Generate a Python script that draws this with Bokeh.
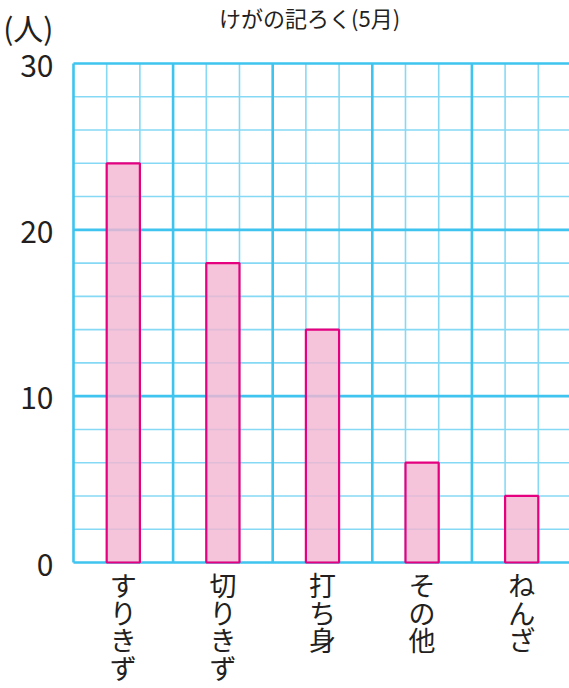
from bokeh.plotting import figure
from bokeh.models import FixedTicker, Range1d
from bokeh.core.properties import value
from bokeh.embed import file_html
from bokeh.resources import INLINE

title_text = "けがの記ろく(5月)"
unit_text = "(人)"
categories = ["すりきず", "切りきず", "打ち身", "その他", "ねんざ"]
counts = [24, 18, 14, 6, 4]
y_ticks = [0, 10, 20, 30]
y_max = 30
minor_y_step = 2
minor_x_div = 3

FONT = "Noto Sans CJK JP"
TXT = "#231f20"
n = len(categories)
xs = [i + 0.5 for i in range(n)]

W, H = 569, 688
PX = 499 / 30                      # pixels per count unit
y_top = 562 / PX                   # canvas top in data units
y_bot = -(H - 562) / PX            # canvas bottom in data units

p = figure(width=W, height=H, x_range=Range1d(-0.02, 4.98), y_range=Range1d(y_bot, y_top),
           output_backend="svg", toolbar_location=None, x_axis_type=None,
           min_border_left=69, min_border_right=0, min_border_top=0, min_border_bottom=0)
p.outline_line_color = None
p.xgrid.visible = False
p.ygrid.visible = False

# ---- grid (drawn only over the chart area) ----
major_c = "#3ec4ef"
minor_c = "#86d9f4"
x_major = list(range(0, n + 1))
x_minor = [i / minor_x_div for i in range(0, minor_x_div * n) if i % minor_x_div != 0]
y_minor = [v for v in range(0, y_max + 1, minor_y_step) if v not in y_ticks]
p.segment(x0=x_minor, x1=x_minor, y0=[0] * len(x_minor), y1=[y_max] * len(x_minor),
          line_color=minor_c, line_width=1.6)
p.segment(x0=[0] * len(y_minor), x1=[n] * len(y_minor), y0=y_minor, y1=y_minor,
          line_color=minor_c, line_width=1.6)
p.segment(x0=x_major, x1=x_major, y0=[0] * len(x_major), y1=[y_max] * len(x_major),
          line_color=major_c, line_width=2.6)
p.segment(x0=[0] * len(y_ticks), x1=[n] * len(y_ticks), y0=y_ticks, y1=y_ticks,
          line_color=major_c, line_width=2.6)

# ---- bars ----
p.vbar(x=xs, width=1 / 3, top=counts, bottom=0, fill_color="#f3b6d2", fill_alpha=0.82,
       line_color="#e5007f", line_width=2.2)

# ---- y axis (with unit label above the top tick) ----
unit_y = (562 - 26) / PX
ya = p.yaxis[0]
ya.ticker = FixedTicker(ticks=y_ticks + [unit_y])
ya.major_label_overrides = {unit_y: unit_text}
ya.axis_line_color = None
ya.major_tick_line_color = None
ya.minor_tick_line_color = None
ya.major_label_text_font = FONT
ya.major_label_text_font_size = "30px"
ya.major_label_text_color = TXT
ya.major_label_standoff = 12

# ---- title ----
p.text(x=[2.37], y=[y_top], text=[title_text], text_font=value(FONT),
       text_font_size="22px", text_align="center", text_baseline="top", text_color=TXT)

# ---- vertical category labels (one character per row) ----
first = -(584 - 562) / PX
pitch = 27.5 / PX
lx, ly, lt = [], [], []
for x, cat in zip(xs, categories):
    for k, ch in enumerate(cat):
        lx.append(x)
        ly.append(first - k * pitch)
        lt.append(ch)
p.text(x=lx, y=ly, text=lt, text_font=value(FONT), text_font_size="27px",
       text_align="center", text_baseline="middle", text_color=TXT)

open("out.html", "w").write(file_html(p, INLINE))
